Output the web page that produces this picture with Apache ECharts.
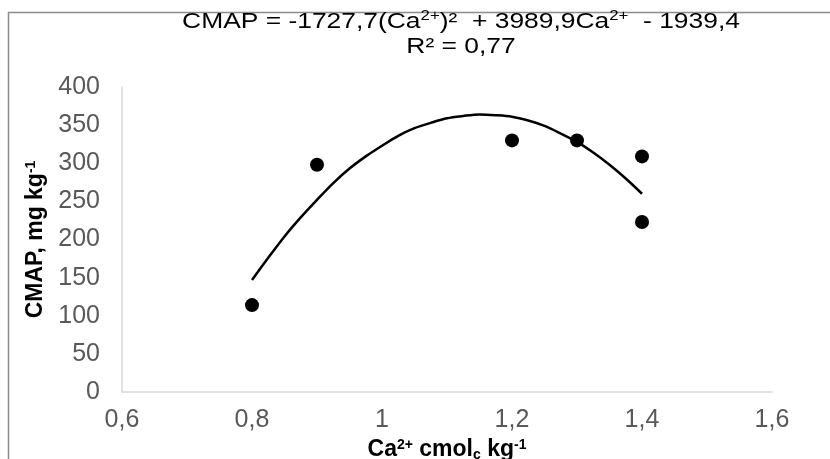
<!DOCTYPE html>
<html>
<head>
<meta charset="utf-8">
<script src="https://cdn.jsdelivr.net/npm/echarts@6/dist/echarts.min.js"></script>
<style>
html, body { margin: 0; padding: 0; background: #fff; }
#chart { width: 830px; height: 459px; }
</style>
</head>
<body>
<div id="chart"></div>
<script>
// measured points (Ca2+, CMAP)
const caValues = [0.8, 0.9, 1.2, 1.3, 1.4, 1.4]
const cmapValues = [114, 298, 330, 330, 309, 223]

// polynomial trend line
const trendX = [0.8, 0.825, 0.85, 0.875, 0.9, 0.925, 0.95, 0.975, 1.0, 1.025, 1.05, 1.075, 1.1,
	1.125, 1.15, 1.175, 1.2, 1.225, 1.25, 1.275, 1.3, 1.325, 1.35, 1.375, 1.4]
const trendY = [147, 176, 204, 229, 252, 274, 293, 309, 323, 336, 346, 353, 359,
	362, 364, 363, 361, 356, 349, 339, 328, 314, 298, 280, 260]

const font = '"Liberation Sans", Arial, sans-serif'

const chart = echarts.init(document.getElementById('chart'), null, { renderer: 'canvas' })

const option = {
	animation: false,
	backgroundColor: '#fff',
	grid: {
		left: 122,
		right: 58,
		top: 87,
		bottom: 67,
		containLabel: false,
		outerBoundsMode: 'none',
	},
	xAxis: {
		type: 'value',
		min: 0.6,
		max: 1.6,
		interval: 0.2,
		splitLine: { show: false },
		axisTick: { show: false },
		axisLine: { show: true, lineStyle: { color: '#d9d9d9', width: 1.5 } },
		axisLabel: {
			fontFamily: font,
			fontSize: 25,
			color: '#595959',
			margin: 16,
			formatter: (v) => String(Math.round(v * 10) / 10).replace('.', ','),
		},
		name: '{n|Ca}{s|2+}{n| cmol}{b|c}{n| kg}{s|-1}',
		nameLocation: 'middle',
		nameGap: 43,
		nameTextStyle: {
			rich: {
				n: { fontFamily: font, fontSize: 23, fontWeight: 'bold', color: '#000', lineHeight: 24 },
				s: { fontFamily: font, fontSize: 14, fontWeight: 'bold', color: '#000', verticalAlign: 'top', lineHeight: 24 },
				b: { fontFamily: font, fontSize: 14, fontWeight: 'bold', color: '#000', verticalAlign: 'bottom', lineHeight: 24, padding: [10, 0, 0, 0] },
			},
		},
	},
	yAxis: {
		type: 'value',
		min: 0,
		max: 400,
		interval: 50,
		splitLine: { show: false },
		axisTick: { show: false },
		axisLine: { show: true, lineStyle: { color: '#d9d9d9', width: 1.5 } },
		axisLabel: {
			fontFamily: font,
			fontSize: 25,
			color: '#595959',
			margin: 22,
		},
		name: '{n|CMAP, mg kg}{s|-1}',
		nameLocation: 'middle',
		nameRotate: 90,
		nameGap: 74,
		nameTextStyle: {
			rich: {
				n: { fontFamily: font, fontSize: 23, fontWeight: 'bold', color: '#000', lineHeight: 24 },
				s: { fontFamily: font, fontSize: 14, fontWeight: 'bold', color: '#000', verticalAlign: 'top', lineHeight: 24 },
			},
		},
	},
	graphic: [
		{
			type: 'rect',
			shape: { x: 8.5, y: 12.5, width: 900, height: 600 },
			style: { fill: 'none', stroke: '#8c8c8c', lineWidth: 1.5 },
			silent: true,
		},
		{
			// trendline equation label
			type: 'text',
			x: 461,
			y: 9,
			scaleX: 1.2,
			silent: true,
			style: {
				text: '{t|CMAP = -1727,7(Ca}{s|2+}{t|)²  + 3989,9Ca}{s|2+}{t|  - 1939,4}\n{t|R² = 0,77}',
				align: 'center',
				verticalAlign: 'top',
				rich: {
					t: { fontFamily: font, fontSize: 22, color: '#000', lineHeight: 25, align: 'center' },
					s: { fontFamily: font, fontSize: 14, color: '#000', lineHeight: 25, verticalAlign: 'top' },
				},
			},
		},
	],
	series: [
		{
			name: 'trend',
			type: 'line',
			smooth: 0.3,
			showSymbol: false,
			lineStyle: { color: '#000', width: 2.5 },
			data: trendX.map((x, i) => [x, trendY[i]]),
			z: 2,
		},
		{
			name: 'CMAP',
			type: 'scatter',
			symbol: 'circle',
			symbolSize: 14,
			itemStyle: { color: '#000', opacity: 1 },
			data: caValues.map((x, i) => [x, cmapValues[i]]),
			z: 3,
		},
	],
}

chart.setOption(option)
</script>
</body>
</html>
